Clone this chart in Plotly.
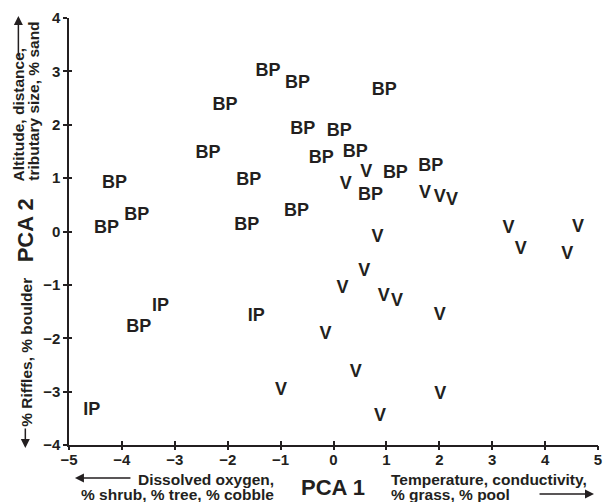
import plotly.graph_objects as go

# ---- data ----
bp_x = [-1.24, -0.68, -2.05, 0.96, -0.58, 0.11, -2.37, -0.23, 0.41, 1.17,
        1.84, 0.70, -1.60, -0.70, -1.64, -4.14, -3.72, -4.29, -3.68]
bp_y = [2.99, 2.77, 2.37, 2.65, 1.91, 1.87, 1.46, 1.36, 1.48, 1.08,
        1.21, 0.67, 0.95, 0.37, 0.11, 0.90, 0.30, 0.06, -1.79]

ip_x = [-3.27, -1.46, -4.57]
ip_y = [-1.40, -1.59, -3.36]

v_x = [0.62, 0.23, 1.73, 2.01, 2.24, 0.83, 3.31, 4.62, 3.54, 4.42,
       0.58, 0.17, 0.95, 1.20, 2.01, -0.15, 0.42, -0.99, 2.02, 0.88]
v_y = [1.10, 0.88, 0.71, 0.64, 0.58, -0.12, 0.06, 0.08, -0.34, -0.43,
       -0.75, -1.07, -1.21, -1.31, -1.57, -1.93, -2.65, -2.97, -3.05, -3.46]

x_ticks = [-5, -4, -3, -2, -1, 0, 1, 2, 3, 4, 5]
y_ticks = [-4, -3, -2, -1, 0, 1, 2, 3, 4]
x_tick_text = ["\u22125", "\u22124", "\u22123", "\u22122", "\u22121", "0", "1", "2", "3", "4", "5"]
y_tick_text = ["\u22124", "\u22123", "\u22122", "\u22121", "0", "1", "2", "3", "4"]

INK = "#231f20"
FONT = "Liberation Sans, Arial, sans-serif"

fig = go.Figure()
for xs, ys, lab in [(bp_x, bp_y, "BP"), (ip_x, ip_y, "IP"), (v_x, v_y, "V")]:
    fig.add_trace(go.Scatter(
        x=xs, y=ys, mode="text", text=[lab] * len(xs),
        textposition="middle center",
        textfont=dict(family=FONT, size=18, color=INK, weight="bold"),
        showlegend=False, hoverinfo="skip"))

# invisible trace on overlay axes (for crossing tick marks)
fig.add_trace(go.Scatter(x=[None], y=[None], xaxis="x2", yaxis="y2",
                         showlegend=False, hoverinfo="skip"))

tickfont = dict(family=FONT, size=15, color=INK, weight="bold")
line_common = dict(showgrid=False, zeroline=False, showline=True,
                   linecolor=INK, linewidth=1.5, tickwidth=1.5, tickcolor=INK,
                   tickfont=tickfont)

fig.update_layout(
    width=607, height=502,
    margin=dict(l=69, r=5, t=18, b=57),
    paper_bgcolor="white", plot_bgcolor="white",
    xaxis=dict(range=[-5, 5], tickvals=x_ticks, ticktext=x_tick_text,
               ticks="inside", ticklen=4, **line_common),
    yaxis=dict(range=[-4, 4], tickvals=y_ticks, ticktext=y_tick_text,
               ticks="outside", ticklen=4, **line_common),
    xaxis2=dict(range=[-5, 5], overlaying="x", anchor="y", side="bottom",
                tickvals=x_ticks, showticklabels=False, ticks="outside", ticklen=4,
                tickwidth=1.5, tickcolor=INK, showgrid=False, zeroline=False, showline=False),
    yaxis2=dict(range=[-4, 4], overlaying="y", anchor="x", side="left",
                tickvals=y_ticks, showticklabels=False, ticks="inside", ticklen=3,
                tickwidth=1.5, tickcolor=INK, showgrid=False, zeroline=False, showline=False),
)

W, H, L, T = 533.0, 427.0, 69.0, 18.0
def px(xp):
    return (xp - L) / W
def py(yp):
    return (T + H - yp) / H

tf = dict(family=FONT, size=15.5, color=INK, weight="bold")
ann = []
# x axis title and descriptors
ann.append(dict(x=px(335), y=py(487), xref="paper", yref="paper", text="PCA 1",
                showarrow=False, xanchor="center", yanchor="middle",
                font=dict(family=FONT, size=22, color=INK, weight="bold")))
ann.append(dict(x=px(278), y=py(479), xref="paper", yref="paper", text="Dissolved oxygen,",
                showarrow=False, xanchor="right", yanchor="middle", font=tf))
ann.append(dict(x=px(278), y=py(495), xref="paper", yref="paper", text="% shrub, % tree, % cobble",
                showarrow=False, xanchor="right", yanchor="middle", font=tf))
ann.append(dict(x=px(391), y=py(479), xref="paper", yref="paper", text="Temperature, conductivity,",
                showarrow=False, xanchor="left", yanchor="middle", font=tf))
ann.append(dict(x=px(391), y=py(495), xref="paper", yref="paper", text="% grass, % pool",
                showarrow=False, xanchor="left", yanchor="middle", font=tf))
# y axis title and descriptors
ann.append(dict(x=px(25), y=py(230), xref="paper", yref="paper", text="PCA 2",
                showarrow=False, xanchor="center", yanchor="middle", textangle=-90,
                font=dict(family=FONT, size=22, color=INK, weight="bold")))
ann.append(dict(x=px(18), y=py(183), xref="paper", yref="paper", text="Altitude, distance,",
                showarrow=False, xanchor="center", yanchor="bottom", textangle=-90, font=tf))
ann.append(dict(x=px(33), y=py(183), xref="paper", yref="paper", text="tributary size, % sand",
                showarrow=False, xanchor="center", yanchor="bottom", textangle=-90, font=tf))
ann.append(dict(x=px(26), y=py(429), xref="paper", yref="paper", text="% Riffles, % boulder",
                showarrow=False, xanchor="center", yanchor="bottom", textangle=-90, font=tf))
# arrows
def arrow(x0, y0, x1, y1):
    # tail (x0,y0) -> head (x1,y1), pixel coordinates
    return dict(x=px(x1), y=py(y1), xref="paper", yref="paper", text="",
                showarrow=True, axref="pixel", ayref="pixel",
                ax=x0 - x1, ay=y0 - y1, arrowhead=2, arrowsize=1.2,
                arrowwidth=1.5, arrowcolor=INK, standoff=0, startstandoff=0)
ann.append(arrow(132, 478, 75, 478))
ann.append(arrow(542, 494, 598, 494))
ann.append(arrow(18, 58, 18, 16))
ann.append(arrow(25, 427, 25, 448))

fig.update_layout(annotations=ann)
fig.write_html("out.html",
               config={"displayModeBar": False},
               post_script="document.body.style.margin='0';"
                           "document.documentElement.style.overflow='hidden';"
                           "document.body.style.overflow='hidden';")
